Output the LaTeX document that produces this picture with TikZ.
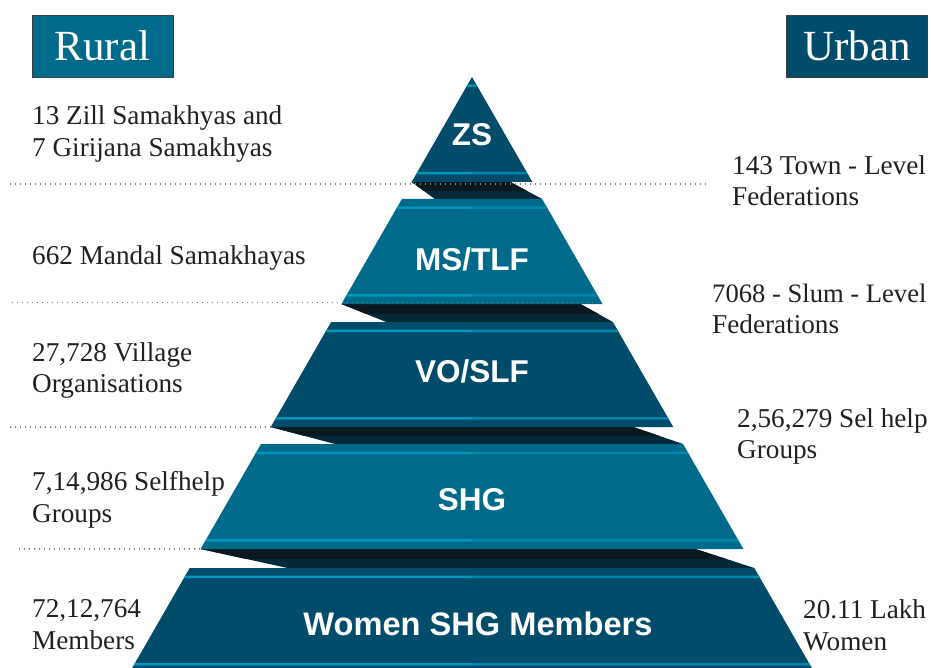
\documentclass[tikz,border=0pt]{standalone}
\usepackage{fontspec}
\setmainfont{Liberation Serif}
\newfontfamily\pyrsans{Liberation Sans}
\definecolor{tealD}{HTML}{004C6A}
\definecolor{tealL}{HTML}{006A8B}
\definecolor{stripeL}{HTML}{0095BA}
\definecolor{stripeR}{HTML}{0086AA}
\definecolor{shadowT}{HTML}{0A1822}
\definecolor{shadowB}{HTML}{03293B}
\definecolor{txt}{HTML}{231F20}
\definecolor{rule}{HTML}{808080}
% pyramid edges: apex (472,77), slope 0.575
\newcommand\pyrL[1]{{472-0.575*((#1)-77)}}
\newcommand\pyrR[1]{{472+0.575*((#1)-77)}}
\newcommand\pyrlevel[3]{\fill[#3] (\pyrL{#1},#1) -- (\pyrR{#1},#1) -- (\pyrR{#2},#2) -- (\pyrL{#2},#2) -- cycle;}
\newcommand\pyrstripe[2]{%
  \fill[stripeL] (\pyrL{#1},#1) -- (472,#1) -- (472,#2) -- (\pyrL{#2},#2) -- cycle;
  \fill[stripeR] (472,#1) -- (\pyrR{#1},#1) -- (\pyrR{#2},#2) -- (472,#2) -- cycle;}
\newcommand\pyrshadowpath[4]{(\pyrL{#1},#1) -- ({472+0.575*((#1)-77)-(#3)},#1) -- (\pyrR{#2},#2) -- ({472-0.575*((#2)-77)+(#4)},#2) -- cycle}
\newcommand\pyrshadow[4]{%
  \fill[shadowB] \pyrshadowpath{#1}{#2}{#3}{#4};
  \begin{scope}
    \clip (0,#1) rectangle (931,{((#1)+(#2))/2});
    \fill[shadowT] \pyrshadowpath{#1}{#2}{#3}{#4};
  \end{scope}}
\begin{document}
\begin{tikzpicture}[x=1pt,y=-1pt,
  lbl/.style={anchor=base west, inner sep=0pt, text=txt, font=\fontsize{27.2}{32}\selectfont},
  pyr/.style={anchor=base, inner sep=0pt, text=white, font=\pyrsans\bfseries\fontsize{31.5}{36}\selectfont},
  hdr/.style={draw=black!75, line width=0.8pt, text=white, inner sep=0pt,
    minimum width=141pt, minimum height=62pt, font=\fontsize{43}{48}\selectfont},
  dotline/.style={draw=rule, line width=1.3pt, dash pattern=on 1.3pt off 3.7pt}]
\clip (0,0) rectangle (931,668);
\fill[white] (0,0) rectangle (931,668);

% shadows between levels
\pyrshadow{182}{199}{22}{33}
\pyrshadow{304}{322}{22}{55}
\pyrshadow{427}{444}{40}{74}
\pyrshadow{549}{568}{48}{98}

% levels
\pyrlevel{77}{182}{tealD}
\pyrlevel{199}{304}{tealL}
\pyrlevel{322}{427}{tealD}
\pyrlevel{444}{549}{tealL}
\pyrlevel{568}{673}{tealD}

% stripes
\pyrstripe{84.5}{87}
\pyrstripe{172}{174.5}
\pyrstripe{206.5}{209}
\pyrstripe{294}{296.5}
\pyrstripe{329.5}{332}
\pyrstripe{417}{419.5}
\pyrstripe{451.5}{454}
\pyrstripe{539}{541.5}
\pyrstripe{575.5}{578}
\pyrstripe{663}{665.5}

% dotted rules
\draw[dotline] (10,184) -- (707,184);
\draw[dotline] (12,302.5) -- (593,302.5);
\draw[dotline] (10,427) -- (271,427);
\draw[dotline] (19,549) -- (201,549);

% headers
\node[hdr, fill=tealL] (rural) at (102.5,46) {Rural};
\node[hdr, fill=tealD] (urban) at (857,46) {Urban};

% pyramid labels
\node[pyr] (zs) at (472,146) {ZS};
\node[pyr] (ms) at (472,270) {MS/TLF};
\node[pyr] (vo) at (472,382) {VO/SLF};
\node[pyr] (shg) at (472,510) {SHG};
\node[pyr, font=\pyrsans\bfseries\fontsize{32.6}{36}\selectfont] (women) at (478,635) {Women SHG Members};

% rural labels
\node[lbl] (r1a) at (32,125) {13 Zill Samakhyas and};
\node[lbl] (r1b) at (32,157) {7 Girijana Samakhyas};
\node[lbl] (r2a) at (32,265) {662 Mandal Samakhayas};
\node[lbl] (r3a) at (32,361) {27,728 Village};
\node[lbl] (r3b) at (32,392) {Organisations};
\node[lbl] (r4a) at (32,490) {7,14,986 Selfhelp};
\node[lbl] (r4b) at (32,522) {Groups};
\node[lbl] (r5a) at (32,617) {72,12,764};
\node[lbl] (r5b) at (32,649) {Members};

% urban labels
\node[lbl] (u1a) at (732,175) {143 Town - Level};
\node[lbl] (u1b) at (732,206) {Federations};
\node[lbl, font=\fontsize{26.6}{32}\selectfont] (u2a) at (712,302) {7068 - Slum - Level};
\node[lbl] (u2b) at (712,333) {Federations};
\node[lbl] (u3a) at (737,427) {2,56,279 Sel help};
\node[lbl] (u3b) at (737,458) {Groups};
\node[lbl] (u4a) at (803,618) {20.11 Lakh};
\node[lbl] (u4b) at (803,650) {Women};
\end{tikzpicture}
\end{document}
